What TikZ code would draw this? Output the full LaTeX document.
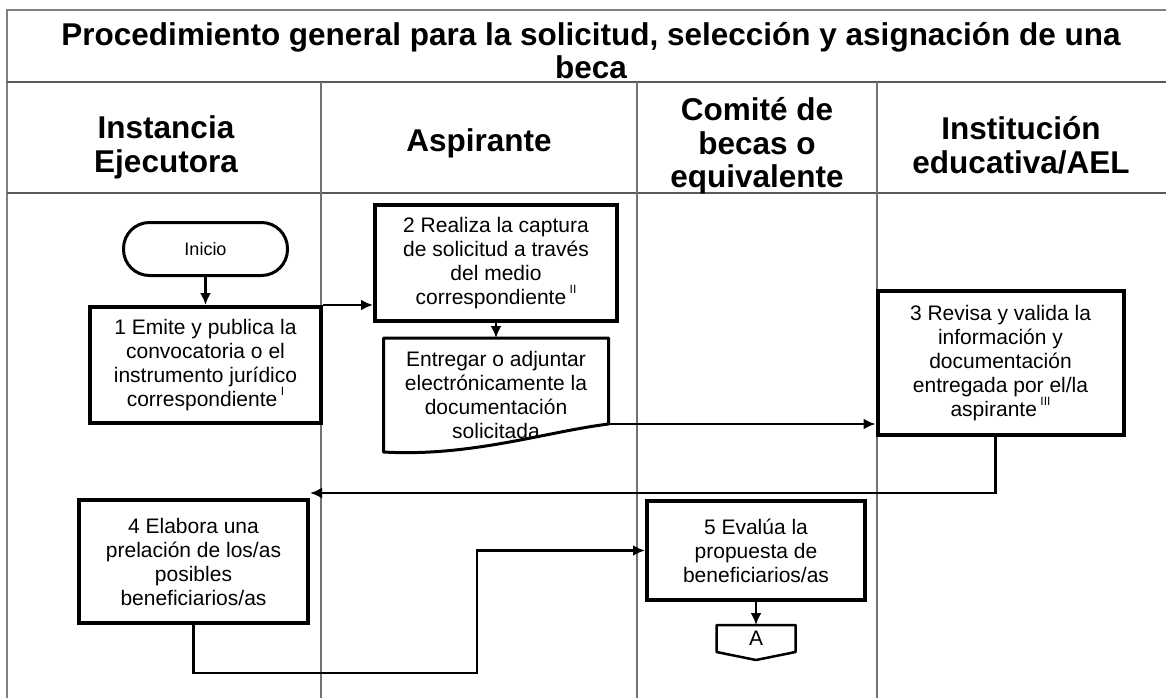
\documentclass[tikz,border=0pt]{standalone}
\usepackage{fontspec}
\setmainfont{Liberation Sans}
\usetikzlibrary{arrows.meta,positioning,calc}

\newcommand{\nota}[1]{\,\raisebox{.5em}{\fontsize{12}{12}\selectfont #1}}

\begin{document}
\begin{tikzpicture}[
	x=1pt, y=-1pt,
	>={Latex[length=12pt,width=11pt]},
	frame/.style = {draw=black!50, line width=1.6pt},
	lane/.style = {draw=black!55, line width=1.2pt},
	head/.style = {
		align=center,
		inner sep=0pt,
		font=\fontsize{31.5}{34}\selectfont\bfseries,
	},
	stepbox/.style = {
		draw, fill=white,
		line width=4pt,
		align=center,
		inner sep=0pt,
		font=\fontsize{21}{24}\selectfont,
	},
	flow/.style = {->, line width=2.5pt},
]

\useasboundingbox (0,0) rectangle (1166,698);

% Table
\draw[frame] (7,698) -- (7,10) -- (1166,10);
\draw[lane, draw=black!65, line width=1.5pt] (7,82) -- (1166,82);
\draw[lane, draw=black!65, line width=1.5pt] (7,193) -- (1166,193);
\draw[lane] (321,82) -- (321,698);
\draw[lane] (637,82) -- (637,698);
\draw[lane] (877,82) -- (877,698);

\node [head, font=\fontsize{31.5}{33}\selectfont\bfseries] (title) at (591,51)
	{Procedimiento general para la solicitud, selección y asignación de una\\beca};

\node [head] (ie) at (166,147) {Instancia\\Ejecutora};
\node [head] (asp) at (479,143) {Aspirante};
\node [head, font=\fontsize{31.5}{33.5}\selectfont\bfseries] (cb) at (757,146) {Comité de\\becas o\\equivalente};
\node [head] (inst) at (1021,145) {Institución\\educativa/AEL};

% Steps
\node [stepbox, minimum width=231pt, minimum height=116pt] (step1) at (205.5,365)
	{1 Emite y publica la\\convocatoria o el\\instrumento jurídico\\correspondiente\nota{I}};

\node [
	draw, fill=white,
	line width=3pt,
	rounded corners=26pt,
	minimum width=164pt,
	minimum height=53pt,
	font=\fontsize{18}{20}\selectfont,
	above=28pt of step1,
] (inicio) {Inicio};

\node [stepbox, minimum width=242pt, minimum height=116pt] (step2) at (496,263)
	{2 Realiza la captura\\de solicitud a través\\del medio\\correspondiente\nota{II}};

% Document box
\node [
	align=center,
	inner sep=0pt, outer sep=0pt,
	minimum width=225pt,
	minimum height=114pt,
	font=\fontsize{21}{24}\selectfont,
	below=15pt of step2,
] (doc) {Entregar o adjuntar\\electrónicamente la\\documentación\\solicitada};
\coordinate (docend) at ($(doc.south east)+(0,-28)$);
\draw[line width=3pt, line join=round] (doc.north west) -- (doc.north east) -- (docend)
	.. controls ($(doc.south)+(49,-20)$) and ($(doc.south)+(-26,5)$) .. (doc.south west) -- cycle;

\node [stepbox, minimum width=246pt, minimum height=144pt] (step3) at (1000.5,363)
	{3 Revisa y valida la\\información y\\documentación\\entregada por el/la\\aspirante\nota{III}};

\node [stepbox, minimum width=229pt, minimum height=123pt] (step4) at (193.5,561.5)
	{4 Elabora una\\prelación de los/as\\posibles\\beneficiarios/as};

\node [stepbox, minimum width=218pt, minimum height=99pt] (step5) at (756,550.5)
	{5 Evalúa la\\propuesta de\\beneficiarios/as};

% Off-page connector
\node [
	inner sep=0pt, outer sep=0pt,
	minimum width=79pt,
	minimum height=27pt,
	font=\fontsize{21}{24}\selectfont,
	below=23pt of step5,
] (conA) {A};
\draw[line width=2.5pt, line join=round] (conA.north west) -- (conA.north east) -- (conA.south east)
	-- ($(conA.south)+(0,8)$) -- (conA.south west) -- cycle;

% Connections
\draw[flow] (inicio.south) -- (step1.north);
\draw[flow] (step1.north east) -- (step1.north east -| step2.west);
\draw[flow] (step2.south) -- (doc.north);
\draw[flow] (docend) -- (docend -| step3.west);
\draw[flow] ($(step3.south)+(-5,0)$) |- ($(step4.north east)+(0,-5)$);
\coordinate (bend) at (477,673);
\draw[flow] (step4.south) |- (bend) |- (step5.west);
\draw[flow] (step5.south) -- (conA.north);

\end{tikzpicture}
\end{document}
